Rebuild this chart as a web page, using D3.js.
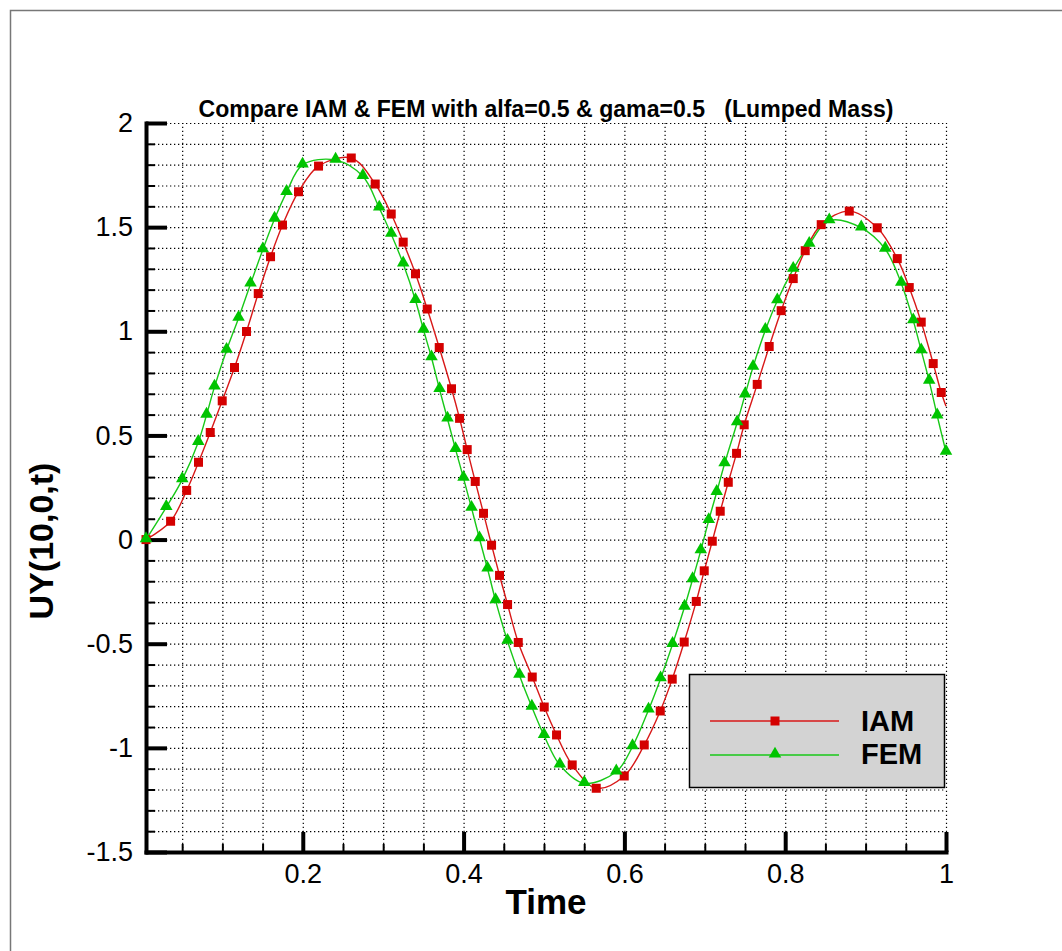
<!DOCTYPE html>
<html lang="en">
  <head>
    <meta charset="utf-8">
    <title>Compare IAM & FEM</title>
    <script src="https://cdnjs.cloudflare.com/ajax/libs/d3/7.8.5/d3.min.js"></script>
    <style>
      body { margin: 0; background: #fff; }
      text { font-family: "Liberation Sans", Arial, sans-serif; }
      .grid line { stroke: #000; stroke-width: 1.2; stroke-dasharray: 1.3,2.7; }
      .grid path { display: none; }
    </style>
  </head>
  <body>
    <div class="chart"></div>
    <script>

      // Data (Time, UY(10,0,t))
      var iamTime = [0.005, 0.0356, 0.0556, 0.0703, 0.0849, 0.0998, 0.1151, 0.1300, 0.1446, 0.1599,
        0.1748, 0.1947, 0.2196, 0.2603, 0.2901, 0.3100, 0.3249, 0.3402, 0.3548, 0.3697,
        0.3850, 0.3950, 0.4045, 0.4145, 0.4248, 0.4348, 0.4447, 0.4547, 0.4680, 0.4854,
        0.5003, 0.5156, 0.5351, 0.5650, 0.5998, 0.6247, 0.6446, 0.6595, 0.6744, 0.6894,
        0.6993, 0.7093, 0.7192, 0.7292, 0.7395, 0.7490, 0.7652, 0.7801, 0.7950, 0.8100,
        0.8249, 0.8448, 0.8797, 0.9145, 0.9394, 0.9543, 0.9692, 0.9841, 0.9941, 1.0];
      var iamValue = [0, 0.088, 0.236, 0.371, 0.514, 0.666, 0.826, 0.999, 1.181, 1.358,
        1.510, 1.670, 1.793, 1.832, 1.707, 1.563, 1.428, 1.276, 1.107, 0.922,
        0.724, 0.582, 0.432, 0.279, 0.126, -0.027, -0.172, -0.312, -0.494, -0.660,
        -0.804, -0.938, -1.082, -1.194, -1.135, -0.986, -0.823, -0.670, -0.492, -0.297,
        -0.150, -0.008, 0.136, 0.275, 0.414, 0.551, 0.745, 0.927, 1.099, 1.253,
        1.387, 1.512, 1.577, 1.497, 1.349, 1.210, 1.044, 0.845, 0.706, 0.640];

      var femTime = [0.005, 0.0302, 0.0501, 0.0700, 0.0803, 0.0902, 0.1052, 0.1201, 0.1350, 0.1503,
        0.1649, 0.1798, 0.1997, 0.2408, 0.2747, 0.2951, 0.3100, 0.3249, 0.3402, 0.3502,
        0.3601, 0.3701, 0.3800, 0.3900, 0.3999, 0.4099, 0.4198, 0.4298, 0.4398, 0.4547,
        0.4694, 0.4849, 0.5000, 0.5197, 0.5501, 0.5899, 0.6101, 0.6300, 0.6450, 0.6599,
        0.6748, 0.6848, 0.6950, 0.7049, 0.7148, 0.7246, 0.7402, 0.7501, 0.7600, 0.7753,
        0.7902, 0.8100, 0.8299, 0.8548, 0.8946, 0.9244, 0.9443, 0.9593, 0.9692, 0.9791,
        0.9891, 1.0];
      var femValue = [0, 0.155, 0.288, 0.467, 0.598, 0.733, 0.909, 1.063, 1.227, 1.392,
        1.539, 1.667, 1.799, 1.822, 1.744, 1.592, 1.466, 1.324, 1.148, 1.006,
        0.873, 0.721, 0.579, 0.433, 0.295, 0.151, 0.004, -0.141, -0.293, -0.488,
        -0.651, -0.804, -0.940, -1.082, -1.170, -1.115, -0.994, -0.818, -0.668, -0.503,
        -0.324, -0.192, -0.053, 0.092, 0.227, 0.364, 0.561, 0.695, 0.828, 1.005,
        1.147, 1.298, 1.418, 1.531, 1.497, 1.395, 1.231, 1.051, 0.907, 0.761,
        0.594, 0.420];

      var xTicks = [0.2, 0.4, 0.6, 0.8, 1];
      var xTickLabels = ["0.2", "0.4", "0.6", "0.8", "1"];
      var yTicks = [-1.5, -1, -0.5, 0, 0.5, 1, 1.5, 2];
      var yTickLabels = ["-1.5", "-1", "-0.5", "0", "0.5", "1", "1.5", "2"];
      var seriesNames = ["IAM", "FEM"];

      var svgWidth = 1062;
      var svgHeight = 951;
      var plot = { left: 146, right: 946, top: 123, bottom: 852 };

      var red = "#d40000";
      var green = "#00c400";

      var svg = d3.select(".chart")
        .append("svg")
        .attr("width", svgWidth)
        .attr("height", svgHeight);

      // outer frame
      svg.append("path")
        .attr("d", "M10.5," + svgHeight + "V10.5H" + svgWidth)
        .attr("fill", "none")
        .attr("stroke", "#777")
        .attr("stroke-width", 1.5);

      // Scales
      var xScale = d3.scaleLinear().domain([0.005, 1]).range([plot.left, plot.right]);
      var yScale = d3.scaleLinear().domain([-1.5, 2]).range([plot.bottom, plot.top]);

      var xMinor = d3.range(1, 21).map(d => d * 0.05).filter(d => Math.round(d * 100) % 20 !== 0);
      var yMinor = d3.range(-14, 20).map(d => d / 10).filter(d => Math.round(d * 10) % 5 !== 0);
      var xGrid = d3.range(1, 21).map(d => d * 0.05);
      var yGrid = d3.range(-14, 21).map(d => d / 10);

      // Grid (dotted)
      svg.append("g")
        .attr("class", "grid")
        .attr("transform", `translate(0, ${plot.bottom})`)
        .call(d3.axisBottom(xScale).tickValues(xGrid).tickSize(-(plot.bottom - plot.top)).tickFormat(""));

      svg.append("g")
        .attr("class", "grid")
        .attr("transform", `translate(${plot.left}, 0)`)
        .call(d3.axisLeft(yScale).tickValues(yGrid).tickSize(-(plot.right - plot.left)).tickFormat(""));

      // Minor ticks
      var xMinorAxis = svg.append("g")
        .attr("transform", `translate(0, ${plot.bottom})`)
        .call(d3.axisBottom(xScale).tickValues(xMinor).tickSize(-8).tickFormat(""));
      var yMinorAxis = svg.append("g")
        .attr("transform", `translate(${plot.left}, 0)`)
        .call(d3.axisLeft(yScale).tickValues(yMinor).tickSize(-9).tickFormat(""));
      [xMinorAxis, yMinorAxis].forEach(function (g) {
        g.select(".domain").remove();
        g.selectAll(".tick line").attr("stroke", "#000").attr("stroke-width", 2);
      });

      // Major axes
      var xAxis = svg.append("g")
        .attr("transform", `translate(0, ${plot.bottom})`)
        .call(d3.axisBottom(xScale)
          .tickValues(xTicks)
          .tickFormat((d, i) => xTickLabels[i])
          .tickSize(-20)
          .tickPadding(12)
          .tickSizeOuter(0));

      var yAxis = svg.append("g")
        .attr("transform", `translate(${plot.left}, 0)`)
        .call(d3.axisLeft(yScale)
          .tickValues(yTicks)
          .tickFormat((d, i) => yTickLabels[i])
          .tickSize(-21)
          .tickPadding(13)
          .tickSizeOuter(0));

      [xAxis, yAxis].forEach(function (g) {
        g.select(".domain").attr("stroke", "#000").attr("stroke-width", 4).attr("stroke-linecap", "square");
        g.selectAll(".tick line").attr("stroke", "#000").attr("stroke-width", 4);
        g.selectAll(".tick text")
          .attr("fill", "#000")
          .style("font-size", "27px");
      });

      // Series
      var iamData = iamTime.map((t, i) => ({ t: t, v: iamValue[i] }));
      var femData = femTime.map((t, i) => ({ t: t, v: femValue[i] }));

      var line = d3.line()
        .x(d => xScale(d.t))
        .y(d => yScale(d.v))
        .curve(d3.curveCatmullRom.alpha(0.5));

      svg.append("path")
        .datum(iamData)
        .attr("d", line)
        .attr("fill", "none")
        .attr("stroke", "#d81818")
        .attr("stroke-width", 1.4);

      svg.append("path")
        .datum(femData)
        .attr("d", line)
        .attr("fill", "none")
        .attr("stroke", "#18c818")
        .attr("stroke-width", 1.4);

      var square = d3.symbol().type(d3.symbolSquare).size(81);
      var triangle = d3.symbol().type(d3.symbolTriangle).size(68);

      // last IAM point only closes the line at t = 1, no symbol there
      svg.append("g").selectAll("path")
        .data(iamData.slice(0, -1))
        .enter()
        .append("path")
        .attr("d", square)
        .attr("transform", d => `translate(${xScale(d.t)}, ${yScale(d.v)})`)
        .attr("fill", red);

      svg.append("g").selectAll("path")
        .data(femData)
        .enter()
        .append("path")
        .attr("d", triangle)
        .attr("transform", d => `translate(${xScale(d.t)}, ${yScale(d.v) - 1})`)
        .attr("fill", green);

      // Title and axis labels
      svg.append("text")
        .attr("x", (plot.left + plot.right) / 2)
        .attr("y", 117)
        .attr("text-anchor", "middle")
        .style("font-size", "23px")
        .style("font-weight", "bold")
        .attr("textLength", 695)
        .attr("lengthAdjust", "spacingAndGlyphs")
        .text("Compare IAM & FEM with alfa=0.5 & gama=0.5   (Lumped Mass)")
        .attr("xml:space", "preserve");

      svg.append("text")
        .attr("transform", "translate(53, 541) rotate(-90)")
        .attr("text-anchor", "middle")
        .style("font-size", "34px")
        .style("font-weight", "bold")
        .text("UY(10,0,t)");

      svg.append("text")
        .attr("x", (plot.left + plot.right) / 2)
        .attr("y", 914)
        .attr("text-anchor", "middle")
        .style("font-size", "35px")
        .style("font-weight", "bold")
        .text("Time");

      // Legend
      var legend = svg.append("g");
      legend.append("rect")
        .attr("x", 689.5)
        .attr("y", 674.5)
        .attr("width", 255)
        .attr("height", 113)
        .attr("fill", "#d3d3d3")
        .attr("stroke", "#000")
        .attr("stroke-width", 1.5);

      var legendRows = [
        { name: seriesNames[0], color: "#d81818", fill: red, symbol: square, y: 721, ty: 731 },
        { name: seriesNames[1], color: "#18c818", fill: green, symbol: triangle, y: 755, ty: 764 }
      ];

      legendRows.forEach(function (r) {
        legend.append("line")
          .attr("x1", 710).attr("x2", 839)
          .attr("y1", r.y).attr("y2", r.y)
          .attr("stroke", r.color)
          .attr("stroke-width", 1.6);
        legend.append("path")
          .attr("d", r.symbol)
          .attr("transform", `translate(775, ${r.y - (r.symbol === triangle ? 1 : 0)})`)
          .attr("fill", r.fill);
        legend.append("text")
          .attr("x", 861)
          .attr("y", r.ty)
          .style("font-size", "29px")
          .style("font-weight", "bold")
          .text(r.name);
      });
    </script>
  </body>
</html>
